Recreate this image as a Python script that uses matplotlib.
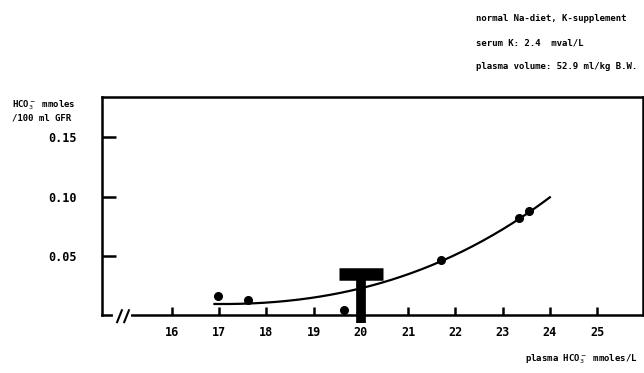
import numpy as np
import matplotlib
matplotlib.use("Agg")
import matplotlib.pyplot as plt

# measured points
pt_x = [16.97, 17.6, 19.65, 21.7, 23.35, 23.55]
pt_y = [0.016, 0.013, 0.004, 0.046, 0.082, 0.088]

# curve
crv_x = [16.9, 18.0, 19.0, 20.0, 21.0, 22.0, 23.0, 24.0]
crv_y = [0.009, 0.011, 0.015, 0.022, 0.034, 0.051, 0.073, 0.099]

# mean marker (T)
t_x = 20.0
t_top = 0.035
t_bottom = -0.007

xticks = [16, 17, 18, 19, 20, 21, 22, 23, 24, 25]
yticks = [0.05, 0.10, 0.15]
ytick_labels = ["0.05", "0.10", "0.15"]

info = ["normal Na-diet, K-supplement",
        "serum K: 2.4  mval/L",
        "plasma volume: 52.9 ml/kg B.W."]

plt.rcParams['font.family'] = ['DejaVu Sans Mono']

fig = plt.figure(figsize=(6.44, 3.73), dpi=100)
ax = fig.add_axes([0.1584, 0.1555, 0.840, 0.5845])

ax.set_xlim(14.52, 25.97)
ax.set_ylim(0, 0.184)

# smooth curve through the read points
c = np.polyfit(crv_x, crv_y, 3)
xs = np.linspace(crv_x[0], crv_x[-1], 200)
ax.plot(xs, np.polyval(c, xs), color="black", lw=1.6)

ax.plot(pt_x, pt_y, "o", color="black", ms=5.5)

# T marker
ax.plot([t_x, t_x], [t_bottom, t_top], color="black", lw=7,
        solid_capstyle="butt", clip_on=False)
ax.plot([t_x - 0.46, t_x + 0.46], [t_top, t_top], color="black", lw=9,
        solid_capstyle="butt", clip_on=False)

for s in ax.spines.values():
    s.set_linewidth(1.8)

ax.set_xticks(xticks)
ax.set_xticklabels([str(v) for v in xticks])
ax.set_yticks(yticks)
ax.set_yticklabels(ytick_labels)
ax.tick_params(axis="x", direction="in", length=6, width=1.8, labelsize=8.5, pad=8)
ax.tick_params(axis="y", direction="in", length=10, width=1.8, labelsize=8.5, pad=18)
for lab in ax.get_xticklabels() + ax.get_yticklabels():
    lab.set_fontweight("bold")

# axis break
ax.plot([14.8, 15.1], [0, 0], color="white", lw=3, clip_on=False, zorder=5)
for dx in (14.84, 14.99):
    ax.plot([dx, dx + 0.1], [-0.006, 0.004], color="black", lw=1.5,
            clip_on=False, zorder=6)

fig.text(0.018, 0.735, "HCO$_3^-$ mmoles\n/100 ml GFR", fontsize=6.5,
         fontweight="bold", va="top", ha="left", linespacing=1.1)
fig.text(0.99, 0.018, "plasma HCO$_3^-$ mmoles/L", fontsize=6.5,
         fontweight="bold", ha="right", va="bottom")

for i, t in enumerate(info):
    fig.text(0.739, 0.95 - i * 0.064, t, fontsize=6.5, fontweight="bold",
             ha="left", va="center")

fig.savefig("out.png", dpi=100)
